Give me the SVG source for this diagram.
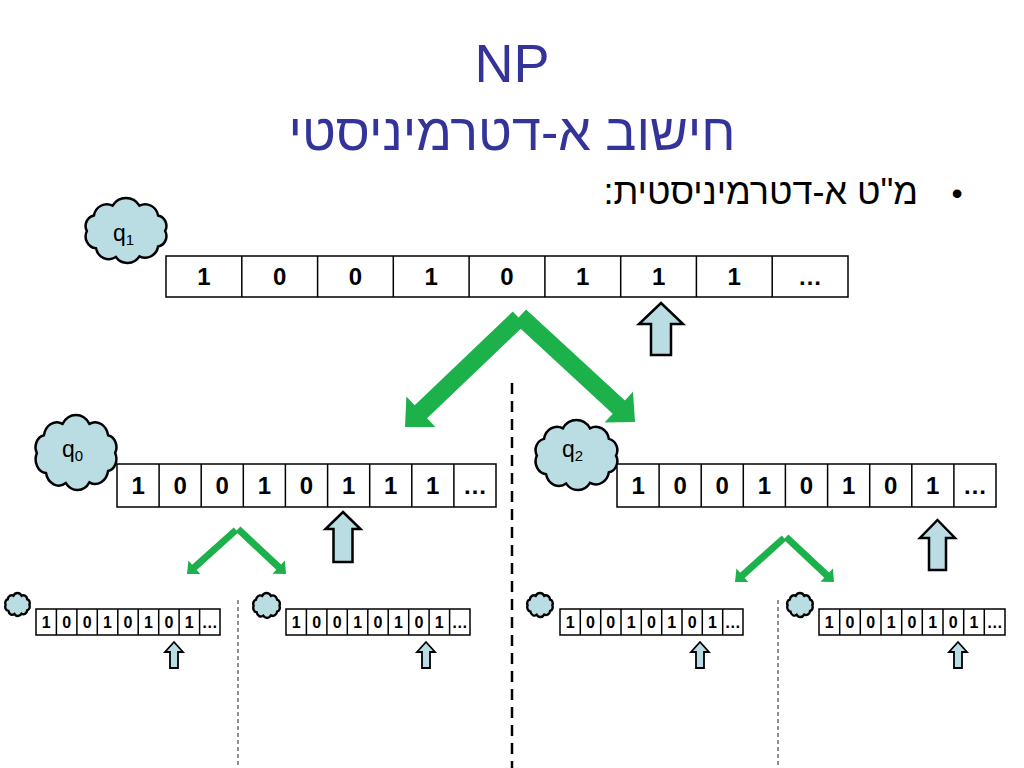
<svg xmlns="http://www.w3.org/2000/svg" xmlns:xlink="http://www.w3.org/1999/xlink" width="1024" height="768" viewBox="0 0 1024 768">
<style>
.title{font-family:"Liberation Sans",Arial,sans-serif;fill:#333399}
.body{font-family:"Liberation Sans",Arial,sans-serif;fill:#000}
.tape{fill:#fff;stroke:#000;stroke-width:1.5}
.div{stroke:#000;stroke-width:1.5;fill:none}
.dig{font-family:"Liberation Sans",Arial,sans-serif;font-weight:bold;fill:#000;text-anchor:middle}
.big{font-size:24px}
.small{font-size:16px}
.cloud{fill:#B9DDE3;stroke:#000;stroke-width:2.5}
.scloud{fill:#B9DDE3;stroke:#000;stroke-width:2.4}
.lbl{font-family:"Liberation Sans",Arial,sans-serif;font-size:23px;fill:#000}
.head{fill:#B9DDE2;stroke:#000;stroke-width:2.5;stroke-linejoin:miter}
.shead{fill:#B9DDE2;stroke:#000;stroke-width:1.8}
.green{fill:#1DB14B}
</style>
<defs>
<path id="cloudShape" vector-effect="non-scaling-stroke" d="M92,35 A11,11 0 0 1 84.4,51.1 A14,14 0 0 1 64.4,61.3 A15.5,15.5 0 0 1 39.1,62 A14,14 0 0 1 17.8,53 A12.5,12.5 0 0 1 8,35 A11,11 0 0 1 15.6,18.9 A14,14 0 0 1 35.6,8.7 A17,17 0 0 1 64.4,8.7 A14,14 0 0 1 84.4,18.9 A11,11 0 0 1 92,35 Z"/>
<polygon id="smallHead" points="174,642 183,652 178,652 178,668 170,668 170,652 165,652"/>
<g id="smallFork">
<polygon points="233.7,527.4 192.1,564.7 188.4,560.6 187,574 200.4,574 196.7,569.9 238.3,532.6"/>
<polygon points="240.4,526.4 281.1,564.6 284.9,560.6 286,574 272.5,573.8 276.3,569.8 235.6,531.6"/>
</g>
</defs>

<g id="title">
<text class="title" x="512" y="82" font-size="54" text-anchor="middle">NP</text>
<text class="title" x="512" y="150" font-size="52" text-anchor="middle" direction="rtl">חישוב א-דטרמיניסטי</text>
</g>
<g id="bullet">
<text class="body" x="957" y="204" font-size="32" text-anchor="middle">•</text>
<text class="body" x="918" y="204" font-size="36" direction="rtl" text-anchor="start">מ&quot;ט א-דטרמיניסטית:</text>
</g>

<g id="separators">
<line x1="512" y1="383" x2="512" y2="768" stroke="#000" stroke-width="2.5" stroke-dasharray="11,7"/>
<line x1="238" y1="600" x2="238" y2="768" stroke="#222" stroke-width="1" stroke-dasharray="4,3"/>
<line x1="778" y1="600" x2="778" y2="768" stroke="#222" stroke-width="1" stroke-dasharray="4,3"/>
</g>

<g id="connectors">
<polygon class="green" points="512.8,311.5 414.7,405.3 406.4,396.6 405,427 435.4,427 427.1,418.3 525.2,324.5"/>
<polygon class="green" points="526.1,309.4 624.9,400.5 633,391.7 635,422 604.6,422.5 612.7,413.7 513.9,322.6"/>
<use xlink:href="#smallFork" class="green"/>
<use xlink:href="#smallFork" class="green" transform="translate(548,8)"/>
</g>

<g id="node-top">
<use xlink:href="#cloudShape" class="cloud" transform="translate(79.4,197.3) scale(0.932,0.963)"/>
<text class="lbl" x="113" y="241">q<tspan font-size="15" dy="4">1</tspan></text>
<rect class="tape" x="166" y="256" width="682" height="41"/>
<path class="div" d="M241.8,256V297M317.6,256V297M393.3,256V297M469.1,256V297M544.9,256V297M620.7,256V297M696.4,256V297M772.2,256V297"/>
<text class="dig big" x="203.9 279.7 355.4 431.2 507 582.8 658.6 734.3 810.1" y="285">10010111…</text>
<polygon class="head" points="661,303 683,324 671,324 671,355 651,355 651,324 639,324"/>
</g>

<g id="node-left">
<use xlink:href="#cloudShape" class="cloud" transform="translate(29.4,414.2) scale(0.932,1.111)"/>
<text class="lbl" x="62" y="457">q<tspan font-size="15" dy="4">0</tspan></text>
<rect class="tape" x="117" y="464" width="379" height="43"/>
<path class="div" d="M159.1,464V507M201.2,464V507M243.3,464V507M285.4,464V507M327.6,464V507M369.7,464V507M411.8,464V507M453.9,464V507"/>
<text class="dig big" x="138.1 180.2 222.3 264.4 306.5 348.6 390.7 432.8 474.9" y="494">10010111…</text>
<polygon class="head" points="343,512 360.5,529 352.5,529 352.5,562 333.5,562 333.5,529 325.5,529"/>
</g>

<g id="node-right">
<use xlink:href="#cloudShape" class="cloud" transform="translate(529.3,419.3) scale(0.943,1.037)"/>
<text class="lbl" x="562" y="457">q<tspan font-size="15" dy="4">2</tspan></text>
<rect class="tape" x="617" y="464" width="379" height="43"/>
<path class="div" d="M659.1,464V507M701.2,464V507M743.3,464V507M785.4,464V507M827.6,464V507M869.7,464V507M911.8,464V507M953.9,464V507"/>
<text class="dig big" x="638.1 680.2 722.3 764.4 806.5 848.6 890.7 932.8 974.9" y="494">10010101…</text>
<polygon class="head" points="937.5,520 955,538 946,538 946,570 929,570 929,538 920,538"/>
</g>

<g id="node-ll">
<use xlink:href="#cloudShape" class="scloud" transform="translate(3.3,592.8) scale(0.284,0.341)"/>
<rect class="tape" x="36" y="609" width="184" height="26"/>
<path class="div" d="M56.4,609V635M76.9,609V635M97.3,609V635M117.8,609V635M138.2,609V635M158.7,609V635M179.1,609V635M199.6,609V635"/>
<text class="dig small" x="46.2 66.7 87.1 107.5 128 148.4 168.9 189.3 209.8" y="627.7">10010101…</text>
<use xlink:href="#smallHead" class="shead"/>
</g>

<g id="node-lr">
<use xlink:href="#cloudShape" class="scloud" transform="translate(251.2,592.7) scale(0.307,0.370)"/>
<rect class="tape" x="286" y="609" width="184" height="26"/>
<path class="div" d="M306.4,609V635M326.9,609V635M347.3,609V635M367.8,609V635M388.2,609V635M408.7,609V635M429.1,609V635M449.6,609V635"/>
<text class="dig small" x="296.2 316.7 337.1 357.6 378 398.4 418.9 439.3 459.8" y="627.7">10010101…</text>
<use xlink:href="#smallHead" class="shead" transform="translate(252,0)"/>
</g>

<g id="node-rl">
<use xlink:href="#cloudShape" class="scloud" transform="translate(525.2,592.75) scale(0.295,0.356)"/>
<rect class="tape" x="560" y="609" width="183" height="26"/>
<path class="div" d="M580.3,609V635M600.7,609V635M621,609V635M641.3,609V635M661.7,609V635M682,609V635M702.3,609V635M722.7,609V635"/>
<text class="dig small" x="570.2 590.5 610.8 631.2 651.5 671.8 692.2 712.5 732.8" y="627.7">10010101…</text>
<use xlink:href="#smallHead" class="shead" transform="translate(526,0)"/>
</g>

<g id="node-rr">
<use xlink:href="#cloudShape" class="scloud" transform="translate(785.2,592.75) scale(0.295,0.356)"/>
<rect class="tape" x="819" y="609" width="186" height="26"/>
<path class="div" d="M839.7,609V635M860.3,609V635M881,609V635M901.7,609V635M922.3,609V635M943,609V635M963.7,609V635M984.3,609V635"/>
<text class="dig small" x="829.3 850 870.7 891.3 912 932.7 953.3 974 994.7" y="627.7">10010101…</text>
<use xlink:href="#smallHead" class="shead" transform="translate(784,0)"/>
</g>
</svg>
